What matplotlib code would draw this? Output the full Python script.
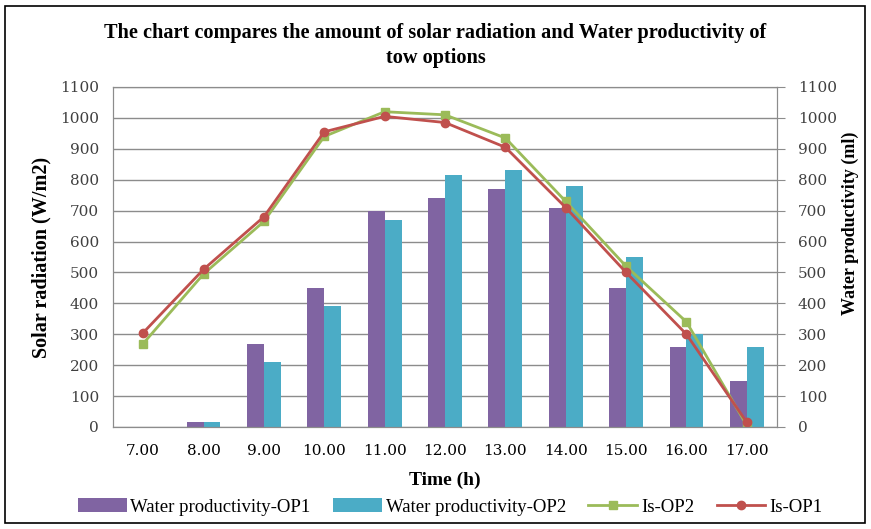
import matplotlib.pyplot as plt
import numpy as np

times = ["7.00", "8.00", "9.00", "10.00", "11.00", "12.00", "13.00", "14.00", "15.00", "16.00", "17.00"]
wp_op1 = [0, 15, 270, 450, 700, 740, 770, 710, 450, 260, 150]
wp_op2 = [0, 15, 210, 390, 670, 815, 830, 780, 550, 300, 260]
is_op2 = [270, 495, 665, 940, 1020, 1010, 935, 730, 520, 340, 5]
is_op1 = [305, 510, 680, 955, 1005, 985, 905, 710, 500, 300, 15]

plt.rcParams['font.family'] = ['Liberation Serif', 'DejaVu Serif']
tickfont = {"family": "DejaVu Serif"}

fig = plt.figure(figsize=(8.71, 5.29), dpi=100)
ax = fig.add_axes([113/871, 1-427/529, 664/871, 340/529])
x = np.arange(len(times))
w = 0.28

b1 = ax.bar(x - w/2, wp_op1, w, color="#8064A2", zorder=2)
b2 = ax.bar(x + w/2, wp_op2, w, color="#4BACC6", zorder=2)
l2, = ax.plot(x, is_op2, color="#9BBB59", marker="s", ms=6, lw=2, zorder=3)
l1, = ax.plot(x, is_op1, color="#C0504D", marker="o", ms=6, lw=2, zorder=4)

yt = list(range(0, 1101, 100))
ax.set_xlim(-0.5, len(times) - 0.5)
ax.set_ylim(0, 1100)
ax.set_yticks(yt)
ax.set_yticklabels([str(v) for v in yt], fontdict=tickfont, fontsize=11)
ax.set_xticks(x)
ax.set_xticklabels(times, fontdict=tickfont, fontsize=11)
ax.tick_params(axis="x", length=0, pad=12)
ax.tick_params(axis="y", length=0, pad=10, colors="#404040")
ax.grid(axis="y", color="#8c8c8c", lw=1, zorder=0)
for s in ax.spines.values():
    s.set_color("#8c8c8c")

ax2 = ax.twinx()
ax2.set_ylim(0, 1100)
ax2.set_yticks(yt)
ax2.set_yticklabels([str(v) for v in yt], fontdict=tickfont, fontsize=11)
ax2.tick_params(axis="y", length=6, pad=9, color="#8c8c8c", colors="#404040")
for s in ax2.spines.values():
    s.set_color("#8c8c8c")

ax.set_ylabel("Solar radiation (W/m2)", fontsize=14.5, fontweight="bold", labelpad=6)
ax2.set_ylabel("Water productivity (ml)", fontsize=13, fontweight="bold")
ax2.yaxis.set_label_coords(1.097, 0.6)
ax.set_xlabel("Time (h)", fontsize=14, fontweight="bold", labelpad=10)

fig.text(0.5, 1-33/529, "The chart compares the amount of solar radiation and Water productivity of",
         ha="center", va="center", fontsize=14.6, fontweight="bold")
fig.text(0.5, 1-58/529, "tow options", ha="center", va="center", fontsize=14.6, fontweight="bold")

fig.legend([b1, b2, l2, l1], ["Water productivity-OP1", "Water productivity-OP2", "Is-OP2", "Is-OP1"],
           loc="center", bbox_to_anchor=(450/871, 1-507/529), ncol=4, frameon=False,
           fontsize=13.5, handlelength=2.6, columnspacing=1.2, handletextpad=0.2)

fig.patches.append(plt.Rectangle((5/871, 6/529), 860/871, 517/529, transform=fig.transFigure,
                                 fill=False, edgecolor="black", lw=1.2))

fig.savefig("out.png", dpi=100)
